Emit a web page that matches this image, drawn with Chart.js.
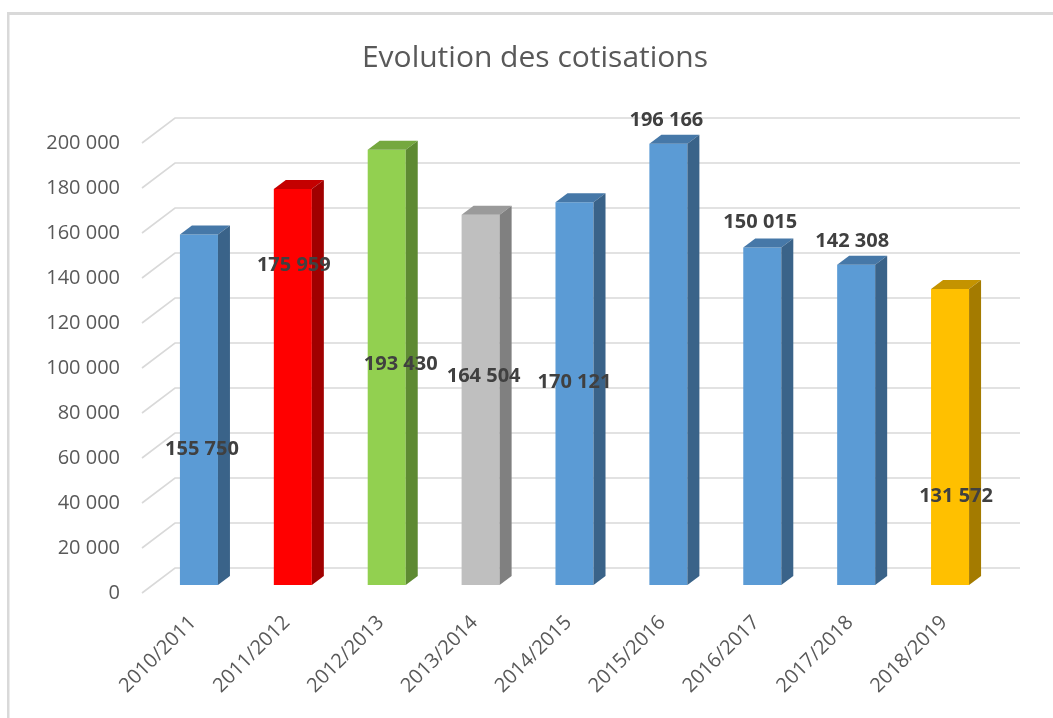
<!DOCTYPE html>
<html>
<head>
<meta charset="utf-8">
<title>Evolution des cotisations</title>
<script src="https://cdn.jsdelivr.net/npm/chart.js@4/dist/chart.umd.min.js"></script>
<style>
  html, body { margin: 0; padding: 0; background: #fff; }
  #wrap { width: 1053px; height: 718px; }
</style>
</head>
<body>
<div id="wrap"><canvas id="cotisChart" width="1053" height="718"></canvas></div>
<script>
// ── Data ──
const chartTitle = 'Evolution des cotisations';
const seasons = ['2010/2011','2011/2012','2012/2013','2013/2014','2014/2015','2015/2016','2016/2017','2017/2018','2018/2019'];
const cotisations = [155750, 175959, 193430, 164504, 170121, 196166, 150015, 142308, 131572];
const yTicks = [0, 20000, 40000, 60000, 80000, 100000, 120000, 140000, 160000, 180000, 200000];

// ── Colours per bar (front / top / side) ──
const frontCols = ['#5b9bd5','#ff0000','#92d050','#bfbfbf','#5b9bd5','#5b9bd5','#5b9bd5','#5b9bd5','#ffc000'];
const topCols   = ['#4678a8','#c40000','#75a83f','#9a9a9a','#4678a8','#4678a8','#4678a8','#4678a8','#c49300'];
const sideCols  = ['#3a6389','#a00000','#5e8a32','#808080','#3a6389','#3a6389','#3a6389','#3a6389','#a47b00'];

// Excel put the value labels in odd spots; level in axis units, x nudge in px
const labelLevel = [64000, 145800, 101800, 96400, 93800, 210200, 164900, 156400, 43100];
const labelNudge = [3, 1, 14, 3, 0, -2, -2, -4, 6];

const FONT = "'Open Sans', 'DejaVu Sans', sans-serif";
const WALL_DX = 33, WALL_DY = 25;   // back wall offset
const BAR_DX = 10, BAR_DY = 8;      // bars sit a bit into the depth
const DEPTH_X = 12, DEPTH_Y = 9;    // bar extrusion

const fmt = v => String(v).replace(/\B(?=(\d{3})+(?!\d))/g, ' ');

/* ── Plugin: frame, title, 3D grid, bar extrusion, value labels ── */
const pseudo3d = {
  id: 'pseudo3d',
  beforeDraw(chart) {
    const ctx = chart.ctx;
    ctx.save();
    ctx.fillStyle = '#d9d9d9';
    ctx.fillRect(7, 12, 1053, 3);
    ctx.fillRect(7, 12, 2.5, 718);
    // title (sits off-centre in the original)
    ctx.fillStyle = '#595959';
    ctx.font = '30px ' + FONT;
    ctx.textAlign = 'center';
    ctx.textBaseline = 'middle';
    ctx.fillText(chartTitle, 535, 58);
    ctx.restore();
  },
  beforeDatasetsDraw(chart) {
    const { ctx, chartArea, scales } = chart;
    const y = scales.y;
    ctx.save();
    ctx.strokeStyle = '#d9d9d9';
    ctx.lineWidth = 1.6;
    yTicks.forEach(v => {
      const py = y.getPixelForValue(v);
      ctx.beginPath();
      ctx.moveTo(chartArea.left, py);
      ctx.lineTo(chartArea.left + WALL_DX, py - WALL_DY);
      ctx.lineTo(chartArea.right + WALL_DX, py - WALL_DY);
      ctx.stroke();
    });
    ctx.restore();
    // shift bar fronts into the depth
    ctx.save();
    ctx.translate(BAR_DX, -BAR_DY);
  },
  afterDatasetsDraw(chart) {
    const ctx = chart.ctx;
    const bars = chart.getDatasetMeta(0).data;
    bars.forEach((bar, i) => {
      const { x, y, base, width } = bar.getProps(['x', 'y', 'base', 'width'], true);
      const l = x - width / 2, r = x + width / 2;
      // top face
      ctx.fillStyle = topCols[i];
      ctx.beginPath();
      ctx.moveTo(l, y);
      ctx.lineTo(l + DEPTH_X, y - DEPTH_Y);
      ctx.lineTo(r + DEPTH_X, y - DEPTH_Y);
      ctx.lineTo(r, y);
      ctx.closePath();
      ctx.fill();
      // side face
      ctx.fillStyle = sideCols[i];
      ctx.beginPath();
      ctx.moveTo(r, y);
      ctx.lineTo(r + DEPTH_X, y - DEPTH_Y);
      ctx.lineTo(r + DEPTH_X, base - DEPTH_Y);
      ctx.lineTo(r, base);
      ctx.closePath();
      ctx.fill();
    });
    ctx.restore();

    // value labels
    const yScale = chart.scales.y;
    ctx.save();
    ctx.font = 'bold 20px ' + FONT;
    ctx.fillStyle = '#404040';
    ctx.textAlign = 'center';
    ctx.textBaseline = 'middle';
    bars.forEach((bar, i) => {
      const px = bar.x + BAR_DX + labelNudge[i];
      const py = yScale.getPixelForValue(labelLevel[i]);
      ctx.fillText(fmt(cotisations[i]), px, py);
    });
    ctx.restore();
  }
};

new Chart(document.getElementById('cotisChart').getContext('2d'), {
  type: 'bar',
  data: {
    labels: seasons,
    datasets: [{
      label: 'Cotisations',
      data: cotisations,
      backgroundColor: frontCols,
      borderWidth: 0,
      barPercentage: 0.405,
      categoryPercentage: 1,
      clip: false
    }]
  },
  options: {
    responsive: false,
    animation: false,
    layout: { padding: { left: 0, right: 66, top: 143, bottom: 0 } },
    plugins: {
      legend: { display: false },
      tooltip: { enabled: false },
      title: { display: false }
    },
    scales: {
      x: {
        grid: { display: false, drawTicks: false },
        border: { display: false },
        ticks: {
          color: '#595959',
          font: { family: FONT, size: 20 },
          minRotation: 45,
          maxRotation: 45,
          padding: 18,
          labelOffset: 4
        },
        afterFit(scale) { scale.height = 125; }
      },
      y: {
        min: 0,
        max: 200000,
        grid: { display: false, drawTicks: false },
        border: { display: false },
        ticks: {
          stepSize: 20000,
          color: '#595959',
          font: { family: FONT, size: 20 },
          padding: 22,
          callback: v => fmt(v)
        },
        afterFit(scale) { scale.width = 142; }
      }
    }
  },
  plugins: [pseudo3d]
});
</script>
</body>
</html>
